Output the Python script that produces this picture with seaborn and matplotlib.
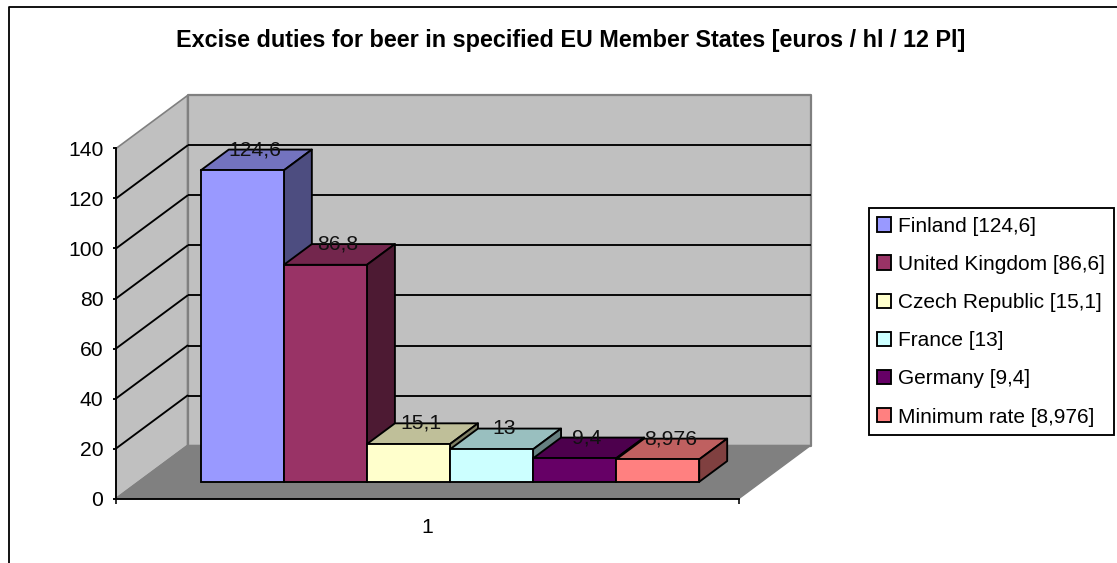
import matplotlib
matplotlib.use("Agg")
import matplotlib.pyplot as plt
from matplotlib.colors import to_rgb
from matplotlib.lines import Line2D
from matplotlib.patches import Polygon
import pandas as pd
import seaborn as sns

# Duty values and their legend entries
series_labels = ["Finland [124,6]", "United Kingdom [86,6]", "Czech Republic [15,1]",
                 "France [13]", "Germany [9,4]", "Minimum rate [8,976]"]
duty_values = [124.6, 86.8, 15.1, 13.0, 9.4, 8.976]
value_labels = ["124,6", "86,8", "15,1", "13", "9,4", "8,976"]
category_labels = ["1"]
bar_colors = ["#9999FF", "#993366", "#FFFFCC", "#CCFFFF", "#660066", "#FF8080"]
y_ticks = [0, 20, 40, 60, 80, 100, 120, 140]
chart_title = "Excise duties for beer in specified EU Member States [euros / hl / 12 Pl]"

W, H = 1117, 563
FONT = 15.2
LINE = 1.35

sns.set_theme(style="white", rc={"axes.linewidth": LINE, "patch.linewidth": LINE})
plt.rcParams["font.family"] = ["Liberation Sans", "DejaVu Sans"]

fig = plt.figure(figsize=(W / 100, H / 100), dpi=100, facecolor="white")
ax = fig.add_axes([116 / W, (H - 498.5) / H, 623 / W, 350 / H])
ax.patch.set_visible(False)

frame = pd.DataFrame({"category": category_labels * len(duty_values),
                      "duty": duty_values, "series": series_labels})
sns.barplot(data=frame, x="category", y="duty", hue="series", hue_order=series_labels,
            palette=bar_colors, saturation=1, width=0.8, gap=0, dodge=True,
            edgecolor="black", linewidth=LINE, ax=ax, zorder=4)

ax.set_xlim(-0.5, 0.5)
ax.set_ylim(0, 140)

# Oblique projection: depth 0 is the axis plane, depth 1 the back wall
DEPTH_X = 71.5 / 623
DEPTH_Y = 53 / 2.5
BAR_FRONT, BAR_BACK = 0.315, 0.706


def project(x, y, depth):
    return (x + depth * DEPTH_X, y + depth * DEPTH_Y)


def add_face(corners, color, edge, z, lw=LINE):
    ax.add_patch(Polygon([project(*c) for c in corners], closed=True, facecolor=color,
                         edgecolor=edge, linewidth=lw, zorder=z, clip_on=False,
                         joinstyle="round"))


def shade(color, factor):
    return tuple(c * factor for c in to_rgb(color))


x0, x1 = -0.5, 0.5
ymax = y_ticks[-1]
wall, floor, rim = "#C0C0C0", "#808080", "#808080"

add_face([(x0, 0, 1), (x1, 0, 1), (x1, ymax, 1), (x0, ymax, 1)], wall, rim, 1, 1.6)
add_face([(x0, 0, 0), (x0, ymax, 0), (x0, ymax, 1), (x0, 0, 1)], wall, rim, 1, 1.2)
add_face([(x0, 0, 0), (x1, 0, 0), (x1, 0, 1), (x0, 0, 1)], floor, floor, 1.5, 1.0)

# Gridlines run along the back wall and down the side wall
for tick in y_ticks[1:-1]:
    back = project(x0, tick, 1)
    back_end = project(x1, tick, 1)
    front = project(x0, tick, 0)
    ax.plot([back[0], back_end[0]], [back[1], back_end[1]], color="black", lw=LINE,
            zorder=2, clip_on=False, solid_capstyle="butt")
    ax.plot([front[0], back[0]], [front[1], back[1]], color="black", lw=LINE,
            zorder=2, clip_on=False)

# Slide the flat bars into the floor and extrude their top and side faces
label_shift = -15.5 / 623
for i, container in enumerate(ax.containers):
    bar = container[0]
    left, width, value = bar.get_x(), bar.get_width(), bar.get_height()
    right = left + width
    color = bar_colors[i]
    z = 4 + i
    fx, fy = project(left, 0, BAR_FRONT)
    bar.set_x(fx)
    bar.set_y(fy)
    bar.set_zorder(z + 0.5)
    bar.set_clip_on(False)
    add_face([(left, value, BAR_FRONT), (right, value, BAR_FRONT),
              (right, value, BAR_BACK), (left, value, BAR_BACK)],
             shade(color, 0.75), "black", z)
    add_face([(right, 0, BAR_FRONT), (right, value, BAR_FRONT),
              (right, value, BAR_BACK), (right, 0, BAR_BACK)],
             shade(color, 0.5), "black", z)
    lx, ly = project((left + right) / 2, value, BAR_BACK)
    ax.text(lx + label_shift, ly, value_labels[i], ha="center", va="center", fontsize=FONT,
            color="#111111", zorder=20)

# Axes
sns.despine(ax=ax, top=True, right=True)
for side in ("left", "bottom"):
    ax.spines[side].set_color("black")
    ax.spines[side].set_zorder(3)
ax.set_xlabel("")
ax.set_ylabel("")
ax.set_yticks(y_ticks)
ax.set_xticks([x0, x1], labels=["", ""])
ax.set_xticks([0], labels=category_labels, minor=True)
ax.tick_params(axis="y", left=True, length=2.5, width=LINE, pad=6.5, labelsize=FONT,
               colors="black")
ax.tick_params(axis="x", which="major", bottom=True, length=3.5, width=LINE)
ax.tick_params(axis="x", which="minor", bottom=False, length=0, pad=14, labelsize=FONT,
               colors="black")

# Legend
sns.move_legend(ax, loc="upper left", bbox_to_anchor=(868.5 / W, 1 - 208 / H),
                bbox_transform=fig.transFigure, title=None, frameon=True, fancybox=False,
                edgecolor="black", framealpha=1, borderaxespad=0, fontsize=15.0,
                handlelength=0.68, handleheight=0.68, handletextpad=0.32,
                labelspacing=0.92, borderpad=0.42, labelcolor="black")
legend = ax.get_legend()
legend.get_frame().set_linewidth(LINE)
legend.set_zorder(30)
for handle in legend.get_patches():
    handle.set_edgecolor("black")
    handle.set_linewidth(LINE)

fig.suptitle(chart_title, x=570.5 / W, y=1 - 40 / H, va="center", ha="center",
             fontsize=16.8, fontweight="bold", color="black")

# Chart-area border, which continues past the right and bottom of the image
fig.add_artist(Line2D([8.5 / W, 8.5 / W, 1], [0, 1 - 7 / H, 1 - 7 / H], color="black", lw=1.3))

fig.savefig("out.png", dpi=100, facecolor="white")
